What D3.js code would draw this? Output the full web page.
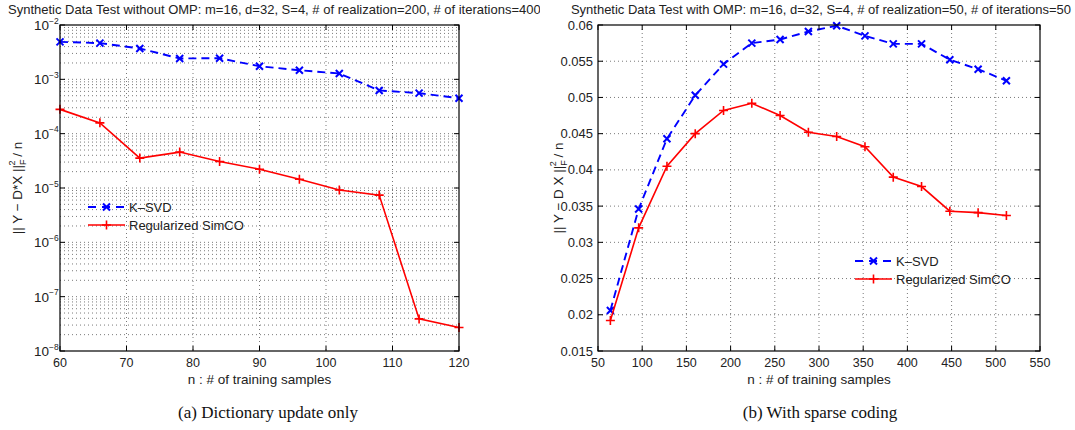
<!DOCTYPE html>
<html><head><meta charset="utf-8">
<script src="https://cdn.jsdelivr.net/npm/d3@7/dist/d3.min.js"></script>
<style>
body{margin:0;background:#fff;}
svg{display:block;font-family:"Liberation Sans",Arial,sans-serif;}
</style></head>
<body><svg id="chart" width="1075" height="430"></svg>
<script>
// ---- Data: panel (a) ----
const xA = [60, 66, 72, 78, 84, 90, 96, 102, 108, 114, 120];
const ksvdA = [4.9e-3, 4.64e-3, 3.7e-3, 2.42e-3, 2.45e-3, 1.74e-3, 1.47e-3, 1.28e-3, 6.25e-4, 5.57e-4, 4.5e-4];
const simcoA = [2.8e-4, 1.58e-4, 3.55e-5, 4.58e-5, 3.07e-5, 2.22e-5, 1.45e-5, 9.2e-6, 7.4e-6, 3.9e-8, 2.7e-8];
const xTicksA = [60, 70, 80, 90, 100, 110, 120];
const yExpA = [-2, -3, -4, -5, -6, -7, -8];
// ---- Data: panel (b) ----
const xB = [64, 96, 128, 160, 192, 224, 256, 288, 320, 352, 384, 416, 448, 480, 512];
const ksvdB = [0.0206, 0.0346, 0.0443, 0.0503, 0.0546, 0.0575, 0.0580, 0.0591, 0.0599, 0.0585, 0.0574, 0.0574, 0.0552, 0.0539, 0.0523];
const simcoB = [0.0192, 0.0320, 0.0405, 0.0450, 0.0482, 0.0492, 0.0475, 0.0452, 0.0446, 0.0432, 0.0390, 0.0377, 0.0343, 0.0341, 0.0337];
const xTicksB = [50, 100, 150, 200, 250, 300, 350, 400, 450, 500, 550];
const yTicksB = [0.015, 0.02, 0.025, 0.03, 0.035, 0.04, 0.045, 0.05, 0.055, 0.06];
const seriesNames = ["K\u2013SVD", "Regularized SimCO"];
const titleA = "Synthetic Data Test without OMP: m=16, d=32, S=4, # of realization=200, # of iterations=400";
const titleB = "Synthetic Data Test with OMP: m=16, d=32, S=4, # of realization=50, # of iterations=50";
const xLabel = "n : # of training samples";
const captions = ["(a) Dictionary update only", "(b) With sparse coding"];

const svg = d3.select("#chart");
const BLUE = "#0000ff", RED = "#ff0000";
const FS_T = 13, FS_TICK = 12.5, FS_LAB = 13.5, FS_LEG = 13;
const TXT = "#222";

function drawMarkersX(g, pts, color) {
  const s = 3.5;
  g.selectAll(null).data(pts).join("path")
    .attr("d", d => `M${d[0]-s},${d[1]-s}L${d[0]+s},${d[1]+s}M${d[0]-s},${d[1]+s}L${d[0]+s},${d[1]-s}`)
    .attr("stroke", color).attr("stroke-width", 2).attr("fill", "none");
}
function drawMarkersPlus(g, pts, color) {
  const s = 4.5;
  g.selectAll(null).data(pts).join("path")
    .attr("d", d => `M${d[0]-s},${d[1]}L${d[0]+s},${d[1]}M${d[0]},${d[1]-s}L${d[0]},${d[1]+s}`)
    .attr("stroke", color).attr("stroke-width", 1.6).attr("fill", "none");
}

function panel(opts) {
  const {x0, x1, y0, y1, xs, ys, xTicks, yTickVals, yTickFmt, gridY, ksvdPts, simcoPts} = opts;
  const g = svg.append("g");
  const grid = g.append("g").attr("stroke", "#000").attr("stroke-width", 0.7)
    .attr("stroke-dasharray", "1,3").attr("opacity", 0.75);
  xTicks.forEach(t => {
    const px = xs(t);
    if (px > x0 + 1 && px < x1 - 1)
      grid.append("line").attr("x1", px).attr("x2", px).attr("y1", y0).attr("y2", y1);
  });
  gridY.forEach(v => {
    const py = ys(v);
    if (py > y0 + 1 && py < y1 - 1)
      grid.append("line").attr("x1", x0).attr("x2", x1).attr("y1", py).attr("y2", py);
  });
  const line = d3.line().x(d => d[0]).y(d => d[1]);
  g.append("path").attr("d", line(ksvdPts)).attr("fill", "none").attr("stroke", BLUE)
    .attr("stroke-width", 1.9).attr("stroke-dasharray", "8,5");
  drawMarkersX(g, ksvdPts, BLUE);
  g.append("path").attr("d", line(simcoPts)).attr("fill", "none").attr("stroke", RED)
    .attr("stroke-width", 1.6);
  drawMarkersPlus(g, simcoPts, RED);
  g.append("rect").attr("x", x0).attr("y", y0).attr("width", x1 - x0).attr("height", y1 - y0)
    .attr("fill", "none").attr("stroke", "#000").attr("stroke-width", 1.2);
  const tk = 5;
  xTicks.forEach(t => {
    const px = xs(t);
    g.append("line").attr("x1", px).attr("x2", px).attr("y1", y1).attr("y2", y1 - tk).attr("stroke", "#000");
    g.append("line").attr("x1", px).attr("x2", px).attr("y1", y0).attr("y2", y0 + tk).attr("stroke", "#000");
    g.append("text").attr("x", px).attr("y", y1 + 16).attr("text-anchor", "middle")
      .attr("font-size", FS_TICK).attr("fill", TXT).text(t);
  });
  yTickVals.forEach(v => {
    const py = ys(v);
    g.append("line").attr("x1", x0).attr("x2", x0 + tk).attr("y1", py).attr("y2", py).attr("stroke", "#000");
    g.append("line").attr("x1", x1).attr("x2", x1 - tk).attr("y1", py).attr("y2", py).attr("stroke", "#000");
    yTickFmt(g, x0 - 4, py, v);
  });
  g.append("text").attr("x", (x0 + x1) / 2).attr("y", y1 + 33).attr("text-anchor", "middle")
    .attr("font-size", FS_LAB).attr("fill", TXT).text(xLabel);
  return g;
}

// ---- Panel (a) ----
const A = {x0: 60, x1: 459, y0: 25, y1: 351};
const xsA = d3.scaleLinear().domain([60, 120]).range([A.x0, A.x1]);
const ysA = d3.scaleLog().domain([1e-8, 1e-2]).range([A.y1, A.y0]);
const minorA = [];
for (let e = -8; e < -2; e++) for (let m = 1; m <= 9; m++) minorA.push(m * Math.pow(10, e));
panel({
  ...A, xs: xsA, ys: ysA, xTicks: xTicksA,
  yTickVals: yExpA.map(e => Math.pow(10, e)),
  yTickFmt: (g, x, y, v) => {
    const e = Math.round(Math.log10(v));
    g.append("text").attr("x", x - 7).attr("y", y + 5).attr("text-anchor", "end")
      .attr("font-size", FS_TICK + 1).attr("fill", TXT).text("10");
    g.append("text").attr("x", x - 7).attr("y", y - 1.5).attr("text-anchor", "start")
      .attr("font-size", 8.5).attr("fill", TXT).text("\u2212" + Math.abs(e));
  },
  gridY: minorA,
  ksvdPts: xA.map((x, i) => [xsA(x), ysA(ksvdA[i])]),
  simcoPts: xA.map((x, i) => [xsA(x), ysA(simcoA[i])])
});

// ---- Panel (b) ----
const B = {x0: 598, x1: 1040, y0: 25, y1: 351};
const xsB = d3.scaleLinear().domain([50, 550]).range([B.x0, B.x1]);
const ysB = d3.scaleLinear().domain([0.015, 0.06]).range([B.y1, B.y0]);
panel({
  ...B, xs: xsB, ys: ysB, xTicks: xTicksB,
  yTickVals: yTicksB,
  yTickFmt: (g, x, y, v) => {
    g.append("text").attr("x", x - 1).attr("y", y + 4.5).attr("text-anchor", "end")
      .attr("font-size", FS_TICK + 0.5).attr("fill", TXT).text(String(+v.toFixed(3)));
  },
  gridY: yTicksB,
  ksvdPts: xB.map((x, i) => [xsB(x), ysB(ksvdB[i])]),
  simcoPts: xB.map((x, i) => [xsB(x), ysB(simcoB[i])])
});

// ---- Titles ----
svg.append("clipPath").attr("id", "clipA").append("rect").attr("x", 0).attr("y", 0).attr("width", 540).attr("height", 30);
svg.append("text").attr("clip-path", "url(#clipA)").attr("x", 8).attr("y", 14)
  .attr("font-size", FS_T).attr("fill", TXT).text(titleA);
svg.append("text").attr("x", (B.x0 + B.x1) / 2 + 2).attr("y", 14).attr("text-anchor", "middle")
  .attr("font-size", FS_T).attr("fill", TXT).text(titleB);

// ---- Y labels ----
function ylab(x, y, main) {
  const t = svg.append("text").attr("transform", `translate(${x},${y}) rotate(-90)`)
    .attr("text-anchor", "middle").attr("font-size", FS_LAB).attr("fill", TXT);
  t.append("tspan").text(main);
  t.append("tspan").attr("font-size", 9).attr("dy", 4).text("F");
  t.append("tspan").attr("font-size", 9).attr("dx", -6).attr("dy", -11).text("2");
  t.append("tspan").attr("dy", 7).text(" / n");
}
ylab(22, 188, "|| Y \u2212 D*X ||");
ylab(563, 188, "|| Y \u2212 D X ||");

// ---- Legends ----
function legend(x, y) {
  const g = svg.append("g");
  const rows = [y, y + 18];
  g.append("line").attr("x1", x).attr("x2", x + 37).attr("y1", rows[0]).attr("y2", rows[0])
    .attr("stroke", BLUE).attr("stroke-width", 1.9).attr("stroke-dasharray", "8,6");
  drawMarkersX(g, [[x + 18.5, rows[0]]], BLUE);
  g.append("text").attr("x", x + 41).attr("y", rows[0] + 4.5).attr("font-size", FS_LEG).attr("fill", TXT).text(seriesNames[0]);
  g.append("line").attr("x1", x).attr("x2", x + 37).attr("y1", rows[1]).attr("y2", rows[1])
    .attr("stroke", RED).attr("stroke-width", 1.6);
  drawMarkersPlus(g, [[x + 18.5, rows[1]]], RED);
  g.append("text").attr("x", x + 41).attr("y", rows[1] + 4.5).attr("font-size", FS_LEG).attr("fill", TXT).text(seriesNames[1]);
}
legend(88, 207);
legend(855, 261);

// ---- Captions ----
const serif = "'Liberation Serif','Times New Roman',serif";
svg.append("text").attr("x", 268).attr("y", 418).attr("text-anchor", "middle")
  .attr("font-family", serif).attr("font-size", 17).attr("fill", "#111").text(captions[0]);
svg.append("text").attr("x", 820).attr("y", 418).attr("text-anchor", "middle")
  .attr("font-family", serif).attr("font-size", 17).attr("fill", "#111").text(captions[1]);
</script></body></html>
